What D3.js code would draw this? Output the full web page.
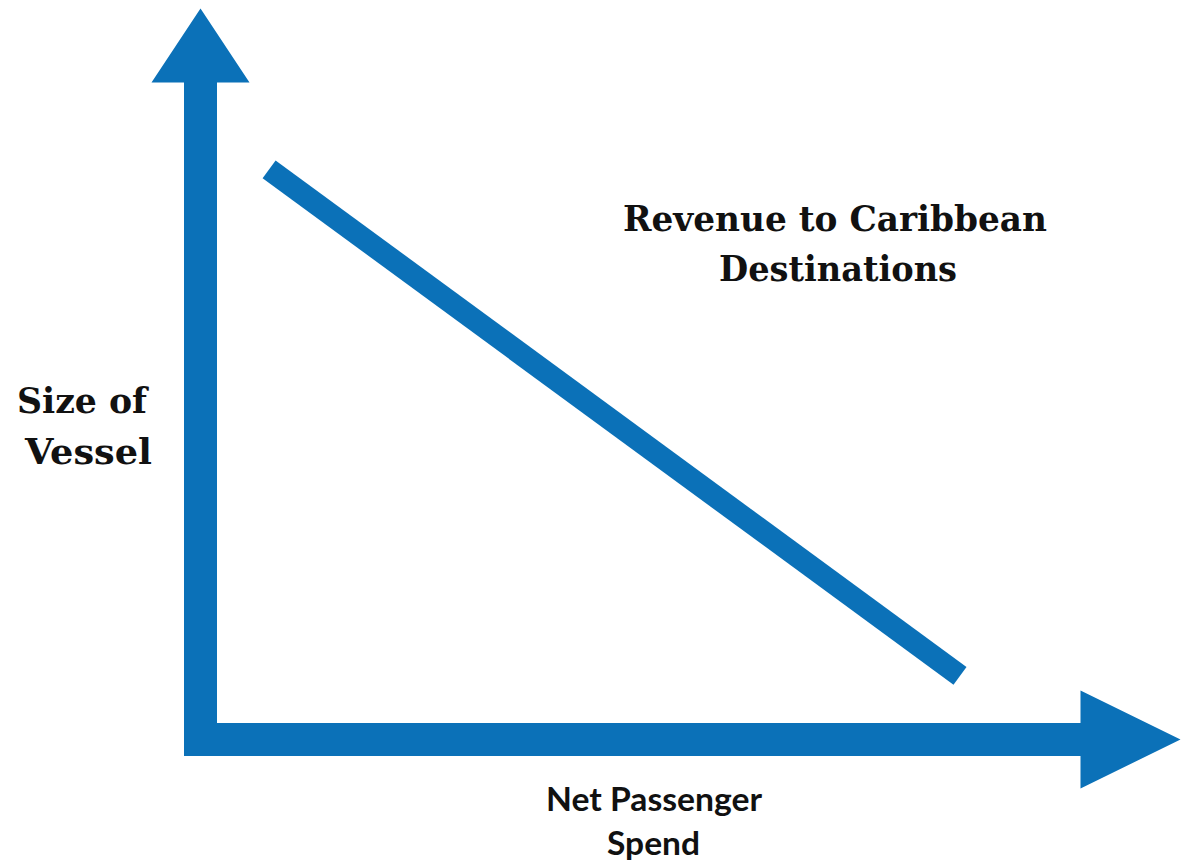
<!DOCTYPE html>
<html>
<head>
<meta charset="utf-8">
<script src="https://cdn.jsdelivr.net/npm/d3@7"></script>
<style>
  html, body { margin: 0; padding: 0; background: #ffffff; }
  svg { display: block; }
</style>
</head>
<body>
<script>
// ---- data ----
const xDomain = [0, 10];
const yDomain = [0, 10];
const trendX = [0.7, 7.75];
const trendY = [7.8, 0.87];
const seriesLabel = ["Revenue to Caribbean", "Destinations"];
const yAxisLabel = ["Size of", "Vessel"];
const xAxisLabel = ["Net Passenger", "Spend"];

// ---- layout ----
const W = 1181, H = 862;
const blue = "#0b71b8";
const x = d3.scaleLinear().domain(xDomain).range([200.5, 1180.5]);
const y = d3.scaleLinear().domain(yDomain).range([739.5, 8.5]);

const svg = d3.select("body").append("svg").attr("width", W).attr("height", H);

// axis arrows
const ox = x(0), oy = y(0), half = 16.5;
const xEnd = x(xDomain[1]), yEnd = y(yDomain[1]);
const headLen = 100, headHalf = 49, headLenV = 74;
const arrowPath = d3.path();
// vertical arrow
arrowPath.moveTo(ox - half, oy + half);
arrowPath.lineTo(ox - half, yEnd + headLenV);
arrowPath.lineTo(ox - headHalf, yEnd + headLenV);
arrowPath.lineTo(ox, yEnd);
arrowPath.lineTo(ox + headHalf, yEnd + headLenV);
arrowPath.lineTo(ox + half, yEnd + headLenV);
arrowPath.lineTo(ox + half, oy - half);
// horizontal arrow
arrowPath.lineTo(xEnd - headLen, oy - half);
arrowPath.lineTo(xEnd - headLen, oy - headHalf);
arrowPath.lineTo(xEnd, oy);
arrowPath.lineTo(xEnd - headLen, oy + headHalf);
arrowPath.lineTo(xEnd - headLen, oy + half);
arrowPath.closePath();
svg.append("path").attr("d", arrowPath.toString()).attr("fill", blue);

// trend line
const trend = trendX.map((v, i) => ({ x: v, y: trendY[i] }));
svg.append("path")
  .datum(trend)
  .attr("d", d3.line().x(d => x(d.x)).y(d => y(d.y)))
  .attr("fill", "none")
  .attr("stroke", blue)
  .attr("stroke-width", 22)
  .attr("stroke-linecap", "butt");

// text helper
function addText(str, cx, baseline, len, family, size) {
  svg.append("text")
    .attr("x", cx)
    .attr("y", baseline)
    .attr("text-anchor", "middle")
    .attr("font-family", family)
    .attr("font-weight", "bold")
    .attr("font-size", size)
    .attr("fill", "#111111")
    .attr("textLength", len)
    .attr("lengthAdjust", "spacingAndGlyphs")
    .text(str);
}
const serif = "'DejaVu Serif', 'Liberation Serif', serif";
const sans = "Lato, 'Open Sans', 'Liberation Sans', sans-serif";

addText(seriesLabel[0], 835, 231, 424, serif, 36);
addText(seriesLabel[1], 838, 281, 238, serif, 36);
addText(yAxisLabel[0], 82, 413, 130, serif, 36);
addText(yAxisLabel[1], 88.5, 464, 127, serif, 36);
addText(xAxisLabel[0], 654, 811, 216, sans, 32);
addText(xAxisLabel[1], 653.5, 855, 93, sans, 32);
</script>
</body>
</html>
